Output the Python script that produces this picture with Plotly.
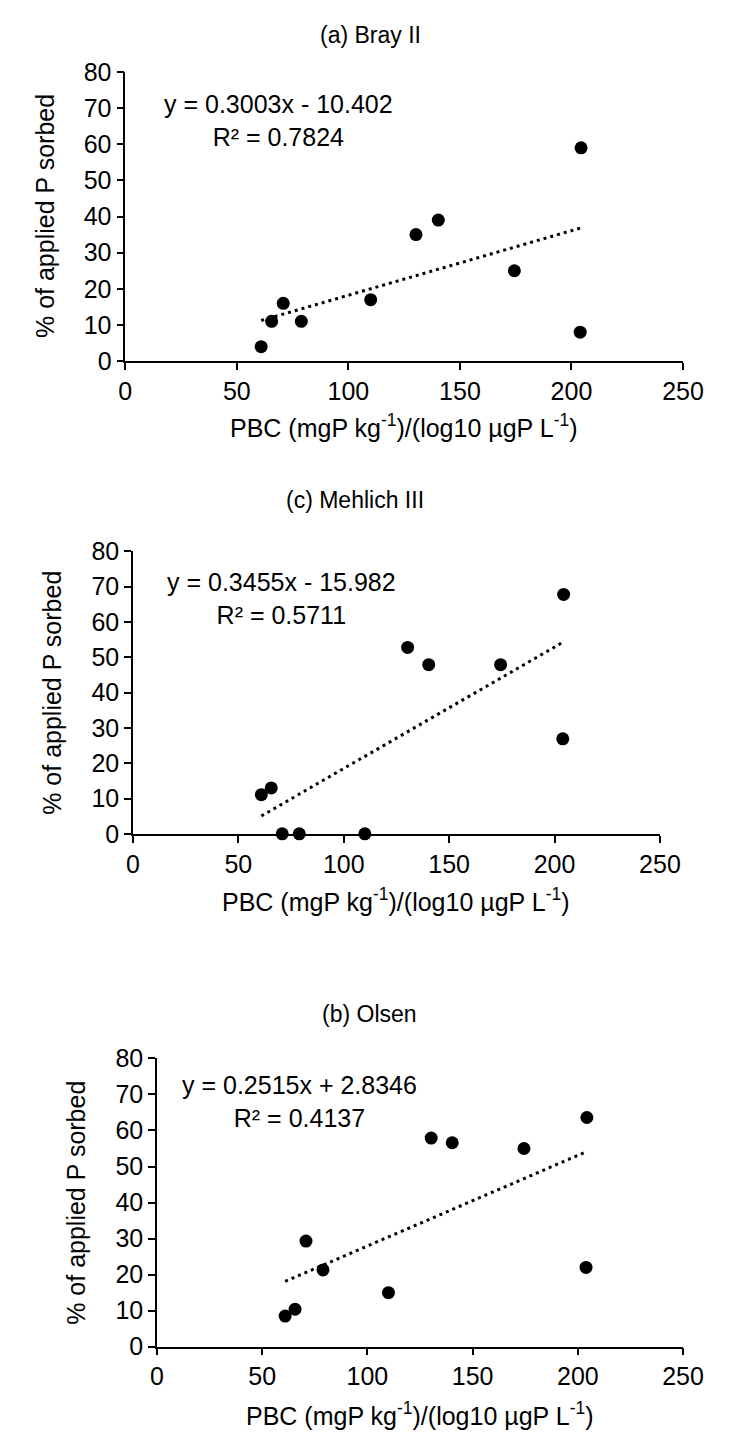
import numpy as np
import plotly.graph_objects as go

# ---- data ----
pbc = [60.9, 65.6, 70.8, 78.9, 110.0, 130.3, 140.3, 174.4, 204.3, 203.9]
bray = [4, 11, 16, 11, 17, 35, 39, 25, 59, 8]
mehlich = [11.1, 13.0, 0, 0, 0, 52.8, 47.9, 47.9, 67.8, 26.9]
olsen = [8.5, 10.4, 29.3, 21.3, 15.0, 57.9, 56.6, 55.0, 63.6, 22.0]

panel_titles = ["(a) Bray II", "(c) Mehlich III", "(b) Olsen"]
equations = ["y = 0.3003x - 10.402", "y = 0.3455x - 15.982", "y = 0.2515x + 2.8346"]
r2_labels = ["R² = 0.7824", "R² = 0.5711", "R² = 0.4137"]
series = [bray, mehlich, olsen]

x_ticks = [0, 50, 100, 150, 200, 250]
y_ticks = [0, 10, 20, 30, 40, 50, 60, 70, 80]

xtitle = "PBC (mgP kg<sup>-1</sup>)/(log10 µgP L<sup>-1</sup>)"
ytitle = "% of applied P sorbed"

W, H = 730, 1447
FONT = "Liberation Sans, Arial, sans-serif"
TICK_SIZE = 25
AXT_SIZE = 25
EQ_SIZE = 25
TITLE_SIZE = 23

# pixel layout of each panel: (x0, x1, ytop, ybottom)
boxes = [(123, 703, 59, 354), (131, 679, 548, 836), (156, 703, 1065, 1359)]
title_pos = [(378, 21), (362, 496), (377, 1020)]
xtitle_y = [420, 903, 1428]
ytitle_x = [39, 46, 71]
eq_pos = [(282, 92), (285, 579), (304, 1092)]   # centre x, first-line centre y

fig = go.Figure()


def px_x(p):
    return p / W


def px_y(p):
    return 1 - p / H


annotations = []
for i, ys in enumerate(series):
    x0, x1, yt, yb = boxes[i]
    xa = "xaxis" if i == 0 else f"xaxis{i+1}"
    ya = "yaxis" if i == 0 else f"yaxis{i+1}"
    xr = "x" if i == 0 else f"x{i+1}"
    yr = "y" if i == 0 else f"y{i+1}"

    fig.add_trace(go.Scatter(
        x=pbc, y=ys, mode="markers", xaxis=xr, yaxis=yr,
        marker=dict(color="black", size=13), showlegend=False, cliponaxis=False))

    # linear trendline through the data
    k, b = np.polyfit(pbc, ys, 1)
    tx = np.array([min(pbc), max(pbc)])
    fig.add_trace(go.Scatter(
        x=tx, y=k * tx + b, mode="lines", xaxis=xr, yaxis=yr,
        line=dict(color="black", width=3, dash="3px,4px"), showlegend=False))

    fig.layout[xa] = dict(
        domain=[px_x(x0), px_x(x1)], range=[0, 250], tickvals=x_ticks,
        showgrid=False, zeroline=False, showline=True, linecolor="black", linewidth=1.5,
        ticks="outside", ticklen=7, tickcolor="black", tickwidth=1.5,
        tickfont=dict(family=FONT, size=TICK_SIZE, color="black"),
        anchor=yr, fixedrange=True)
    fig.layout[ya] = dict(
        domain=[px_y(yb), px_y(yt)], range=[0, 80], tickvals=y_ticks,
        showgrid=False, zeroline=False, showline=True, linecolor="black", linewidth=1.5,
        ticks="outside", ticklen=7, tickcolor="black", tickwidth=1.5,
        tickfont=dict(family=FONT, size=TICK_SIZE, color="black"),
        anchor=xr, fixedrange=True)

    tx_, ty_ = title_pos[i]
    annotations.append(dict(text=panel_titles[i], x=px_x(tx_), y=px_y(ty_),
                            xref="paper", yref="paper", showarrow=False,
                            xanchor="center", yanchor="middle",
                            font=dict(family=FONT, size=TITLE_SIZE, color="black")))
    annotations.append(dict(text=xtitle, x=px_x((x0 + x1) / 2), y=px_y(xtitle_y[i]),
                            xref="paper", yref="paper", showarrow=False,
                            xanchor="center", yanchor="middle",
                            font=dict(family=FONT, size=AXT_SIZE, color="black")))
    annotations.append(dict(text=ytitle, x=px_x(ytitle_x[i]), y=px_y((yt + yb) / 2),
                            xref="paper", yref="paper", showarrow=False, textangle=-90,
                            xanchor="center", yanchor="middle",
                            font=dict(family=FONT, size=AXT_SIZE, color="black")))
    ex, ey = eq_pos[i]
    annotations.append(dict(text=equations[i] + "<br>" + r2_labels[i],
                            x=px_x(ex), y=px_y(ey - EQ_SIZE * 0.65), xref="paper", yref="paper",
                            showarrow=False, xanchor="center", yanchor="top", align="center",
                            font=dict(family=FONT, size=EQ_SIZE, color="black")))

fig.update_layout(
    width=W, height=H, margin=dict(l=0, r=0, t=0, b=0),
    paper_bgcolor="white", plot_bgcolor="white",
    annotations=annotations, showlegend=False)

fig.write_html("out.html", config={"displayModeBar": False},
               post_script="document.body.style.margin='0';")
